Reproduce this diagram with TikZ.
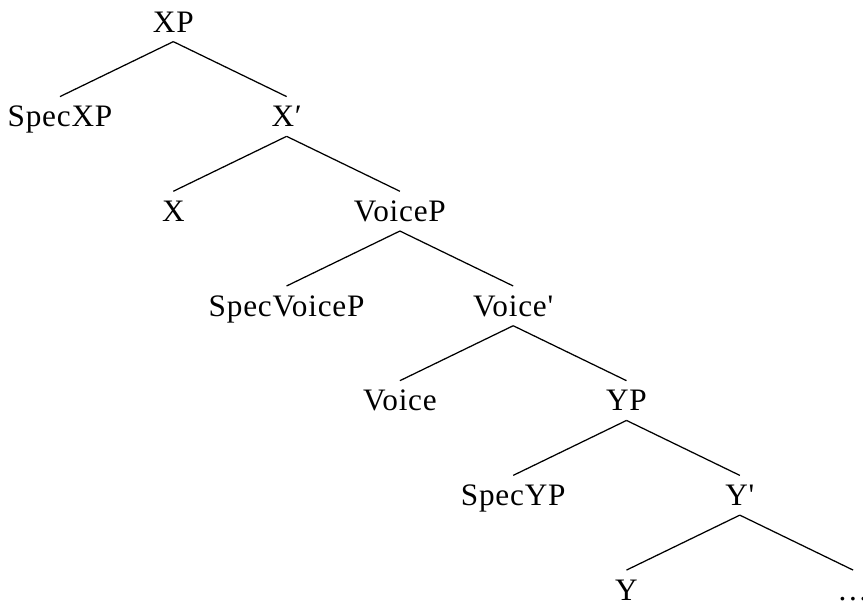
\documentclass[tikz,border=0pt]{standalone}
\usepackage{fontspec}
\setmainfont{Liberation Serif}[Ligatures=TeXOff, LetterSpace=2.5]

\begin{document}
\begin{tikzpicture}[x=45.32pt, y=-37.88pt, line width=0.5pt,
    % Estilos
    cat/.style={
        anchor=base, inner ysep=3.6pt, text height=8.2pt, text depth=0pt,
        font=\fontsize{12.5}{14}\selectfont
    }
]
\useasboundingbox (-0.5296,-0.3379) rectangle (7.0874,5.998);
\clip (-0.5296,-0.3379) rectangle (7.0874,5.998);

% =============================================
% NODOS
% =============================================

% XP
\node[cat] (xp)         at (1, 0) {XP};
\node[cat] (specxp)     at (0, 1) {SpecXP};
\node[cat] (xbar)       at (2, 1) {X′};
\node[cat] (x)          at (1, 2) {X};

% VoiceP
\node[cat] (voicep)     at (3, 2) {VoiceP};
\node[cat] (specvoicep) at (2, 3) {SpecVoiceP};
\node[cat] (voicebar)   at (4, 3) {Voice'};
\node[cat] (voice)      at (3, 4) {Voice};

% YP
\node[cat] (yp)         at (5, 4) {YP};
\node[cat] (specyp)     at (4, 5) {SpecYP};
\node[cat] (ybar)       at (6, 5) {Y'};
\node[cat] (y)          at (5, 6) {Y};
\node[cat] (dots)       at (7, 6) {\dots};

% =============================================
% RAMAS
% =============================================
\draw (xp.south) -- (specxp.north);
\draw (xp.south) -- (xbar.north);
\draw (xbar.south) -- (x.north);
\draw (xbar.south) -- (voicep.north);

\draw (voicep.south) -- (specvoicep.north);
\draw (voicep.south) -- (voicebar.north);
\draw (voicebar.south) -- (voice.north);
\draw (voicebar.south) -- (yp.north);

\draw (yp.south) -- (specyp.north);
\draw (yp.south) -- (ybar.north);
\draw (ybar.south) -- (y.north);
\draw (ybar.south) -- (dots.north);

\end{tikzpicture}
\end{document}
